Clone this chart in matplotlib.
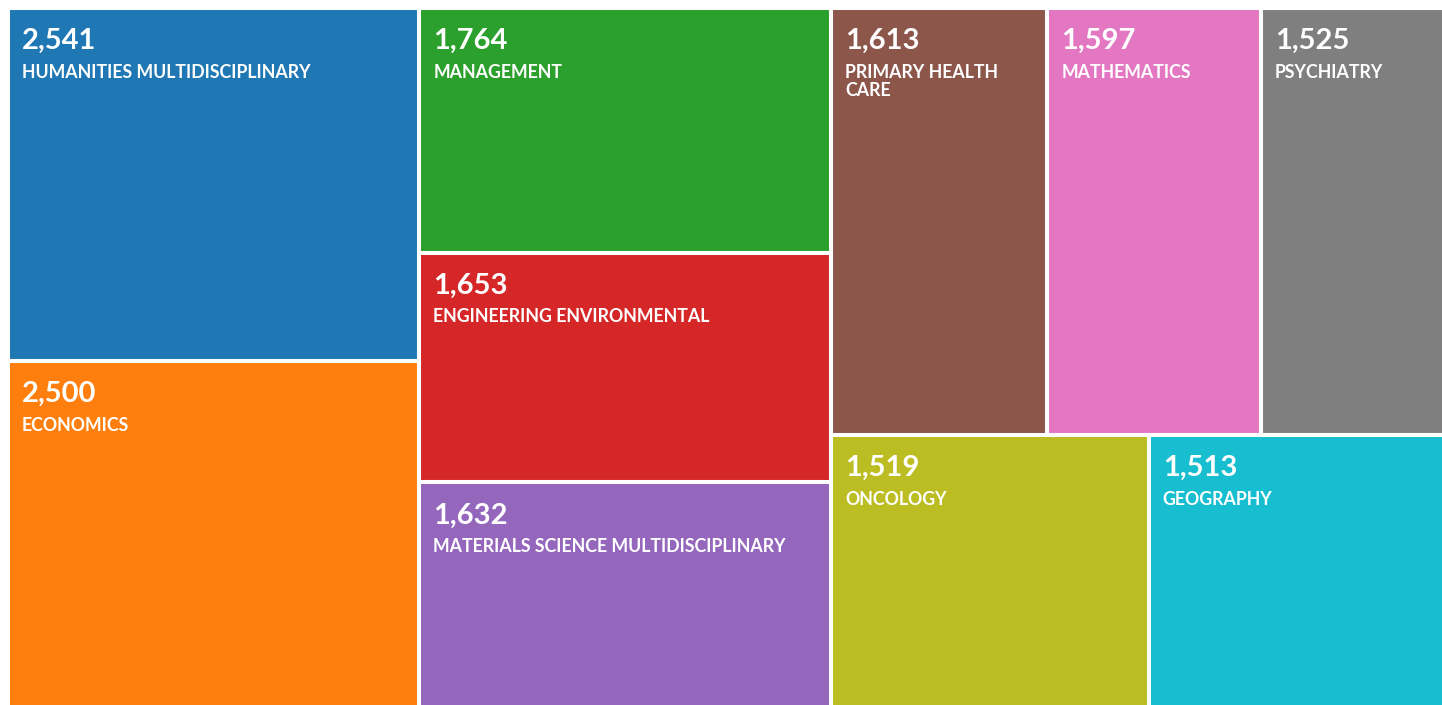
import math
import matplotlib
matplotlib.use("Agg")
import matplotlib.pyplot as plt
from matplotlib.patches import Rectangle

categories = [
    "HUMANITIES MULTIDISCIPLINARY",
    "ECONOMICS",
    "MANAGEMENT",
    "ENGINEERING ENVIRONMENTAL",
    "MATERIALS SCIENCE MULTIDISCIPLINARY",
    "PRIMARY HEALTH CARE",
    "MATHEMATICS",
    "PSYCHIATRY",
    "ONCOLOGY",
    "GEOGRAPHY",
]
values = [2541, 2500, 1764, 1653, 1632, 1613, 1597, 1525, 1519, 1513]
colors = ["#1f77b4", "#ff7f0e", "#2ca02c", "#d62728", "#9467bd",
          "#8c564b", "#e377c2", "#7f7f7f", "#bcbd22", "#17becf"]

W, H = 1442, 705
FONT = "Lato"


def squarify(vals, x0, y0, x1, y1, ratio=(1 + math.sqrt(5)) / 2):
    """d3.treemapSquarify layout; returns list of (x0, y0, x1, y1)."""
    rects = [None] * len(vals)
    n = len(vals)
    i0 = i1 = 0
    value = float(sum(vals))
    while i0 < n:
        dx, dy = x1 - x0, y1 - y0
        sum_v = vals[i1]
        i1 += 1
        min_v = max_v = sum_v
        alpha = max(dy / dx, dx / dy) / (value * ratio)
        beta = sum_v * sum_v * alpha
        min_ratio = max(max_v / beta, beta / min_v)
        while i1 < n:
            nv = vals[i1]
            sum_v += nv
            min_v = min(min_v, nv)
            max_v = max(max_v, nv)
            beta = sum_v * sum_v * alpha
            new_ratio = max(max_v / beta, beta / min_v)
            if new_ratio > min_ratio:
                sum_v -= nv
                break
            min_ratio = new_ratio
            i1 += 1
        dice = dx < dy
        if dice:
            ny = y0 + dy * sum_v / value if dy else y1
            cx = x0
            for k in range(i0, i1):
                w = dx * vals[k] / sum_v
                rects[k] = (cx, y0, cx + w, ny)
                cx += w
            y0 = ny
        else:
            nx = x0 + dx * sum_v / value if dx else x1
            cy = y0
            for k in range(i0, i1):
                h = dy * vals[k] / sum_v
                rects[k] = (x0, cy, nx, cy + h)
                cy += h
            x0 = nx
        value -= sum_v
        i0 = i1
    return rects


fig = plt.figure(figsize=(W / 100, H / 100), dpi=100)
ax = fig.add_axes([0, 0, 1, 1])
ax.set_xlim(0, W)
ax.set_ylim(H, 0)
ax.axis("off")

rects = squarify(values, 8, 8, 1465, 709)
fig.canvas.draw()
renderer = fig.canvas.get_renderer()


def text_width(s, size):
    t = ax.text(0, 0, s, fontsize=size, fontweight="bold", family=FONT)
    w = t.get_window_extent(renderer).width
    t.remove()
    return w


def wrap(label, avail, size):
    words = label.split()
    lines, cur = [], ""
    for wd in words:
        trial = (cur + " " + wd).strip()
        if cur and text_width(trial, size) > avail:
            lines.append(cur)
            cur = wd
        else:
            cur = trial
    lines.append(cur)
    return lines


NUM_SIZE = 21
LAB_SIZE = 12.8
for (x0, y0, x1, y1), v, lab, c in zip(rects, values, categories, colors):
    ax.add_patch(Rectangle((x0, y0), x1 - x0, y1 - y0, facecolor=c,
                           edgecolor="white", linewidth=2.9))
    tx = x0 + 14
    ax.text(tx, y0 + 41, f"{v:,}", color="white", fontsize=NUM_SIZE,
            fontweight="bold", family=FONT, va="baseline", ha="left")
    for i, line in enumerate(wrap(lab, x1 - x0 - 30, LAB_SIZE)):
        ax.text(tx, y0 + 69.5 + i * 18.3, line, color="white",
                fontsize=LAB_SIZE, fontweight="bold", family=FONT,
                va="baseline", ha="left")

fig.savefig("out.png", dpi=100, facecolor="white")
